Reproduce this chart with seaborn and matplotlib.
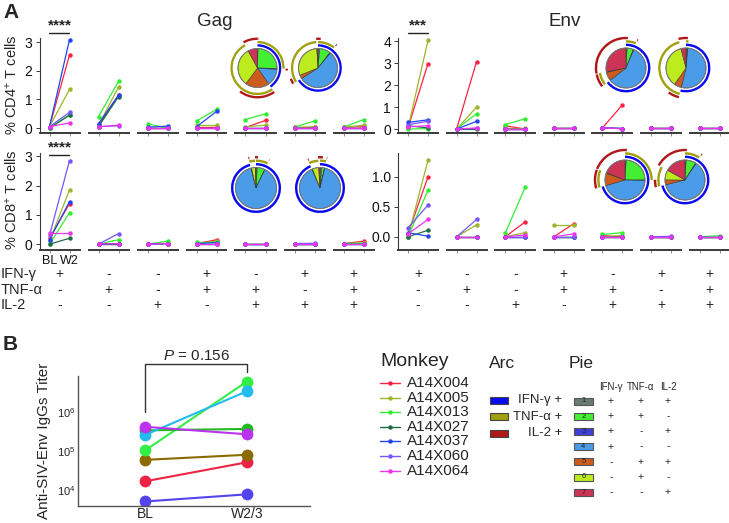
import numpy as np
import pandas as pd
import matplotlib
matplotlib.use('Agg')
import matplotlib.pyplot as plt
from matplotlib.patches import Wedge, Circle, Rectangle
import seaborn as sns

sns.set_theme(style='ticks')
plt.rcParams['font.family'] = ['Liberation Sans', 'DejaVu Sans']
plt.rcParams['mathtext.fontset'] = 'custom'
plt.rcParams['mathtext.rm'] = 'Liberation Sans'
plt.rcParams['mathtext.it'] = 'Liberation Sans:italic'
plt.rcParams['mathtext.bf'] = 'Liberation Sans:bold'

# ---------------- data ----------------
monkeys = ['A14X004', 'A14X005', 'A14X013', 'A14X027', 'A14X037', 'A14X060', 'A14X064']
monkey_colors = ['#FF2244', '#9DB52C', '#33EE33', '#1E6B4A', '#2244EE', '#7755FF', '#EE33EE']
b_colors = ['#EE2244', '#8B6A00', '#33EE44', '#22BB22', '#22BBEE', '#5544EE', '#BB33EE']

row_names = ['IFN-γ', 'TNF-α', 'IL-2']
ifng_signs = ['+', '-', '-', '+', '-', '+', '+']
tnfa_signs = ['-', '+', '-', '+', '+', '-', '+']
il2_signs = ['-', '-', '+', '-', '+', '+', '+']

# rows: monkeys, columns: 7 cytokine combinations
gag_cd4_bl = [[0.05, 0.10, 0.02, 0.05, 0.02, 0.05, 0.03],
              [0.05, 0.10, 0.02, 0.10, 0.05, 0.02, 0.03],
              [0.00, 0.40, 0.15, 0.25, 0.30, 0.03, 0.03],
              [0.00, 0.05, 0.02, 0.02, 0.02, 0.02, 0.02],
              [0.05, 0.15, 0.03, 0.05, 0.02, 0.02, 0.02],
              [0.05, 0.05, 0.02, 0.02, 0.02, 0.02, 0.02],
              [0.05, 0.05, 0.02, 0.02, 0.02, 0.02, 0.02]]
gag_cd4_w2 = [[2.55, 1.15, 0.02, 0.05, 0.27, 0.05, 0.05],
              [1.35, 1.43, 0.02, 0.10, 0.10, 0.05, 0.10],
              [0.47, 1.63, 0.00, 0.65, 0.50, 0.25, 0.30],
              [0.45, 1.10, 0.02, 0.02, 0.02, 0.02, 0.02],
              [3.08, 1.15, 0.07, 0.58, 0.02, 0.02, 0.02],
              [0.55, 0.08, 0.02, 0.02, 0.02, 0.02, 0.02],
              [0.18, 0.10, 0.02, 0.02, 0.02, 0.02, 0.02]]
env_cd4_bl = [[0.05, 0.00, 0.15, 0.05, 0.05, 0.05, 0.05],
              [0.05, 0.00, 0.05, 0.05, 0.05, 0.05, 0.05],
              [0.00, 0.00, 0.20, 0.05, 0.07, 0.05, 0.05],
              [0.15, 0.00, 0.00, 0.05, 0.05, 0.05, 0.05],
              [0.30, 0.00, 0.00, 0.05, 0.05, 0.05, 0.05],
              [0.20, 0.00, 0.00, 0.05, 0.05, 0.05, 0.05],
              [0.10, 0.00, 0.00, 0.05, 0.05, 0.05, 0.05]]
env_cd4_w2 = [[2.98, 3.07, 0.00, 0.05, 1.10, 0.05, 0.05],
              [4.03, 1.00, 0.05, 0.05, 0.02, 0.05, 0.05],
              [0.02, 0.70, 0.47, 0.05, 0.02, 0.05, 0.05],
              [0.05, 0.00, 0.00, 0.05, 0.02, 0.05, 0.05],
              [0.42, 0.35, 0.00, 0.05, 0.02, 0.05, 0.05],
              [0.35, 0.03, 0.00, 0.05, 0.02, 0.05, 0.05],
              [0.15, 0.05, 0.00, 0.05, 0.02, 0.05, 0.05]]
gag_cd8_bl = [[0.20, 0.00, 0.00, 0.02, 0.02, 0.02, 0.02],
              [0.10, 0.00, 0.00, 0.02, 0.02, 0.02, 0.02],
              [0.00, 0.00, 0.00, 0.07, 0.02, 0.02, 0.02],
              [0.00, 0.00, 0.00, 0.02, 0.02, 0.02, 0.02],
              [0.15, 0.00, 0.00, 0.02, 0.02, 0.02, 0.02],
              [0.30, 0.00, 0.00, 0.02, 0.02, 0.02, 0.02],
              [0.37, 0.00, 0.00, 0.02, 0.02, 0.02, 0.02]]
gag_cd8_w2 = [[1.38, 0.00, 0.02, 0.15, 0.02, 0.02, 0.10],
              [1.85, 0.02, 0.03, 0.10, 0.02, 0.02, 0.03],
              [1.07, 0.15, 0.10, 0.07, 0.02, 0.02, 0.04],
              [0.20, 0.00, 0.02, 0.02, 0.02, 0.02, 0.02],
              [1.45, 0.02, 0.02, 0.05, 0.02, 0.02, 0.02],
              [2.85, 0.36, 0.02, 0.02, 0.02, 0.03, 0.02],
              [0.37, 0.02, 0.02, 0.02, 0.02, 0.02, 0.02]]
env_cd8_bl = [[0.05, 0.00, 0.00, 0.00, 0.02, 0.00, 0.00],
              [0.00, 0.00, 0.00, 0.20, 0.00, 0.00, 0.00],
              [0.00, 0.00, 0.06, 0.00, 0.04, 0.00, 0.00],
              [0.00, 0.00, 0.00, 0.00, 0.00, 0.00, 0.00],
              [0.07, 0.00, 0.00, 0.00, 0.00, 0.00, 0.00],
              [0.15, 0.00, 0.00, 0.00, 0.00, 0.00, 0.00],
              [0.05, 0.00, 0.00, 0.00, 0.00, 0.00, 0.00]]
env_cd8_w2 = [[1.00, 0.00, 0.25, 0.22, 0.00, 0.00, 0.00],
              [1.28, 0.20, 0.07, 0.20, 0.02, 0.00, 0.00],
              [0.78, 0.00, 0.83, 0.00, 0.07, 0.00, 0.02],
              [0.11, 0.00, 0.00, 0.00, 0.00, 0.00, 0.00],
              [0.01, 0.00, 0.00, 0.00, 0.00, 0.00, 0.00],
              [0.53, 0.29, 0.00, 0.00, 0.00, 0.01, 0.00],
              [0.29, 0.00, 0.03, 0.05, 0.00, 0.00, 0.00]]

# pie fractions (categories 1..7)
gag_cd4_pies = [[0.5, 25, 1, 14, 20, 32, 8], [1.5, 9, 0.5, 55, 3, 30, 1]]
env_cd4_pies = [[1, 5, 0.5, 58, 7, 0.5, 28], [1, 0.5, 0, 52, 6, 36, 4]]
gag_cd8_pies = [[1, 6, 0.2, 89, 0.5, 3, 0.5], [1.5, 2, 0.3, 90, 0.5, 5, 1]]
env_cd8_pies = [[1, 24, 0.5, 45, 10, 0.5, 19], [1, 8, 0.5, 62, 4, 8, 17]]
pie_colors = ['#6B7B73', '#44EE33', '#3F3FD8', '#4A9BE8', '#CC5C1E', '#BDEB1E', '#CC3355']
pie_ifng = ['+', '+', '+', '+', '-', '-', '-']
pie_tnfa = ['+', '+', '-', '-', '+', '+', '-']
pie_il2 = ['+', '-', '+', '-', '+', '-', '+']
arc_labels = ['IFN-γ +', 'TNF-α +', 'IL-2 +']
arc_colors = ['#0A0AEE', '#A0A010', '#B01818']

# panel B titers
b_times = ['BL', 'W2/3']
b_bl = [1.7e4, 6.0e4, 1.05e5, 3.4e5, 2.6e5, 5.2e3, 4.2e5]
b_w23 = [5.2e4, 8.1e4, 6.0e6, 3.7e5, 3.4e6, 7.9e3, 2.7e5]

# ---------------- layout ----------------
W, H = 729, 523
fig = plt.figure(figsize=(W / 100, H / 100), dpi=100)


def px_axes(left, top, width, height):
    ax = fig.add_axes([left / W, 1 - (top + height) / H, width / W, height / H])
    ax.patch.set_alpha(0)
    return ax


ov = px_axes(0, 0, W, H)
ov.set_xlim(0, W)
ov.set_ylim(H, 0)
ov.axis('off')

pal = dict(zip(monkeys, monkey_colors))
gag_centers = [59.5 + 49 * i for i in range(7)]
env_centers = [418 + 48.6 * i for i in range(7)]
SPINE = '#3a3a3a'


def draw_panel(bl, w2, centers, top, height, ylim, yticks, fmt, xlabels=False):
    rows = []
    for mi, m in enumerate(monkeys):
        for g in range(7):
            rows.append(dict(group=g, monkey=m, time=0, value=bl[mi][g]))
            rows.append(dict(group=g, monkey=m, time=1, value=w2[mi][g]))
    df = pd.DataFrame(rows)
    for g, c in enumerate(centers):
        ax = px_axes(c - 20, top, 40, height)
        sns.lineplot(data=df[df.group == g], x='time', y='value', hue='monkey',
                     hue_order=monkeys, palette=pal, marker='o', markersize=3.2,
                     markeredgewidth=0, linewidth=0.9, legend=False, ax=ax,
                     estimator=None, sort=False)
        ax.set_xlim(-0.5, 1.5)
        ax.set_ylim(*ylim)
        ax.set_xlabel('')
        ax.set_ylabel('')
        ax.set_xticks([0, 1])
        for s in ['top', 'right']:
            ax.spines[s].set_visible(False)
        ax.spines['bottom'].set_color(SPINE)
        ax.spines['bottom'].set_linewidth(1.4)
        ax.tick_params(axis='x', length=2.5, width=0.6, color='#777777', pad=1,
                       labelsize=9, labelcolor='#111111')
        if xlabels and g == 0:
            ax.set_xticklabels(['BL', 'W2'])
        else:
            ax.set_xticklabels([])
        if g == 0:
            ax.spines['left'].set_color(SPINE)
            ax.spines['left'].set_linewidth(0.8)
            ax.set_yticks(yticks)
            ax.set_yticklabels([fmt.format(v) for v in yticks])
            ax.tick_params(axis='y', length=3, width=0.7, color=SPINE, pad=2,
                           labelsize=10, labelcolor='#111111')
        else:
            ax.spines['left'].set_visible(False)
            ax.set_yticks([])


draw_panel(gag_cd4_bl, gag_cd4_w2, gag_centers, 38, 95, (-0.17, 3.14), [0, 1, 2, 3], '{:.0f}')
draw_panel(env_cd4_bl, env_cd4_w2, env_centers, 38, 95, (-0.18, 4.14), [0, 1, 2, 3, 4], '{:.0f}')
draw_panel(gag_cd8_bl, gag_cd8_w2, gag_centers, 153, 97, (-0.2, 3.11), [0, 1, 2, 3], '{:.0f}', xlabels=True)
draw_panel(env_cd8_bl, env_cd8_w2, env_centers, 153, 97, (-0.22, 1.40), [0.0, 0.5, 1.0], '{:.1f}')

# pies
cyto_sets = [pie_ifng, pie_tnfa, pie_il2]
arc_r = [1.22, 1.39, 1.56]


def draw_pie(cx, cy, r_px, fracs):
    lim = 1.65
    size = 2 * lim * r_px
    ax = px_axes(cx - size / 2, cy - size / 2, size, size)
    f = np.array(fracs, float)
    f = f / f.sum()
    ax.pie(f, colors=pie_colors, startangle=90, counterclock=False, radius=1,
           wedgeprops=dict(edgecolor='#333333', linewidth=0.35))
    ax.add_patch(Circle((0, 0), 1.0, fill=False, ec='#777777', lw=0.7))
    cum = np.concatenate([[0], np.cumsum(f)])
    for k, signs in enumerate(cyto_sets):
        segs = []
        for i in range(7):
            if signs[i] == '+' and f[i] > 0:
                if segs and abs(segs[-1][1] - cum[i]) < 1e-9:
                    segs[-1][1] = cum[i + 1]
                else:
                    segs.append([cum[i], cum[i + 1]])
        for s, e in segs:
            ax.add_patch(Wedge((0, 0), arc_r[k], 90 - 360 * e, 90 - 360 * s,
                               width=0.12, color=arc_colors[k], lw=0))
    ax.set_xlim(-lim, lim)
    ax.set_ylim(-lim, lim)
    ax.set_aspect('equal')
    ax.axis('off')


for (cx, cy, r), fr in zip([(257.5, 68, 19.5), (318, 68, 19.5)], gag_cd4_pies):
    draw_pie(cx, cy, r, fr)
for (cx, cy, r), fr in zip([(626, 68, 20), (686, 68, 20)], env_cd4_pies):
    draw_pie(cx, cy, r, fr)
for (cx, cy, r), fr in zip([(256, 188, 20.5), (320, 188, 20.5)], gag_cd8_pies):
    draw_pie(cx, cy, r, fr)
for (cx, cy, r), fr in zip([(625, 180, 20), (685, 180, 20)], env_cd8_pies):
    draw_pie(cx, cy, r, fr)

# texts panel A
ov.text(3, 12, 'A', fontsize=15, fontweight='bold', va='center', ha='left')
ov.text(215, 22, 'Gag', fontsize=13.5, ha='center', va='center')
ov.text(565, 22, 'Env', fontsize=13.5, ha='center', va='center')
ov.text(12, 85, '% CD4$^{+}$ T cells', rotation=90, fontsize=10.5, ha='center', va='center')
ov.text(12, 200, '% CD8$^{+}$ T cells', rotation=90, fontsize=10.5, ha='center', va='center')


def sig(cx, y, stars):
    ov.plot([cx - 10, cx + 10], [y, y], color='#222222', lw=1)
    ov.text(cx, y - 1, stars, fontsize=11, fontweight='bold', ha='center', va='bottom')


sig(gag_centers[0], 33, '****')
sig(env_centers[0], 33, '***')
sig(gag_centers[0], 155, '****')

row_y = [274, 290, 305]
for name, y, signs in zip(row_names, row_y, [ifng_signs, tnfa_signs, il2_signs]):
    ov.text(1, y, name, fontsize=10.5, ha='left', va='center')
    for c, s in zip(gag_centers, signs):
        ov.text(c, y, s, fontsize=10, ha='center', va='center')
    for c, s in zip(env_centers, signs):
        ov.text(c, y, s, fontsize=10, ha='center', va='center')

# ---------------- panel B ----------------
ov.text(3, 345, 'B', fontsize=15, fontweight='bold', va='center', ha='left')
axb = px_axes(78, 376, 232, 130)
axb.set_yscale('log')
dfb = pd.DataFrame({'monkey': monkeys * 2,
                    'time': [0] * 7 + [1] * 7,
                    'titer': b_bl + b_w23})
sns.lineplot(data=dfb, x='time', y='titer', hue='monkey', hue_order=monkeys,
             palette=dict(zip(monkeys, b_colors)), marker='o', markersize=8.5,
             markeredgewidth=0, linewidth=1.5, legend=False, ax=axb,
             estimator=None, sort=False)
axb.set_xlim(-0.66, 1.62)
axb.set_ylim(10 ** 3.6, 10 ** 6.92)
axb.set_xticks([0, 1])
axb.set_xticklabels(b_times, fontsize=10)
axb.set_yticks([1e4, 1e5, 1e6])
axb.set_yticklabels(['$10^{4}$', '$10^{5}$', '$10^{6}$'], fontsize=8)
axb.minorticks_off()
axb.set_xlabel('')
axb.set_ylabel('Anti-SIV-Env IgGs Titer', fontsize=11, labelpad=4)
for s in ['top', 'right']:
    axb.spines[s].set_visible(False)
for s in ['left', 'bottom']:
    axb.spines[s].set_color('#555555')
    axb.spines[s].set_linewidth(1.0)
axb.tick_params(axis='x', length=0, pad=1)
axb.tick_params(axis='y', length=0, pad=2)
axb.plot([0, 0, 1, 1], [1e6, 10 ** 7.22, 10 ** 7.22, 10 ** 7.02], color='#333333',
         lw=1, clip_on=False)
axb.text(0.5, 10 ** 7.43, '$P$ = 0.156', fontsize=11, ha='center', va='center')

# legends
ov.text(380, 362, 'Monkey', fontsize=14, ha='left', va='center')
for i, (m, col) in enumerate(zip(monkeys, monkey_colors)):
    y = 383 + 14.6 * i
    ov.plot([380, 400], [y, y], color=col, lw=1)
    ov.plot([390], [y], 'o', color=col, ms=3.2, mew=0)
    ov.text(407, y, m, fontsize=11, ha='left', va='center')

ov.text(489, 363, 'Arc', fontsize=12.5, ha='left', va='center')
for i, (lab, col) in enumerate(zip(arc_labels, arc_colors)):
    y = 400 + 16.5 * i
    ov.add_patch(Rectangle((490, y - 3.5), 18, 7, facecolor=col, edgecolor='#444444', lw=0.8))
    ov.text(562, y, lab, fontsize=9.5, ha='right', va='center')

ov.text(569, 363, 'Pie', fontsize=12.5, ha='left', va='center')
col_x = [611, 641, 668]
for x, lab in zip(col_x, row_names):
    ov.text(x, 387, lab, fontsize=7, ha='center', va='center')
for i, col in enumerate(pie_colors):
    y = 401 + 15.2 * i
    ov.add_patch(Rectangle((574, y - 3.5), 19, 7, facecolor=col, edgecolor='#555555', lw=0.8))
    ov.text(583.5, y, str(i + 1), fontsize=5.5, ha='center', va='center', color='#222222')
    for x, signs in zip(col_x, [pie_ifng, pie_tnfa, pie_il2]):
        ov.text(x, y, signs[i], fontsize=7.5, ha='center', va='center')

fig.savefig('out.png', dpi=100)
